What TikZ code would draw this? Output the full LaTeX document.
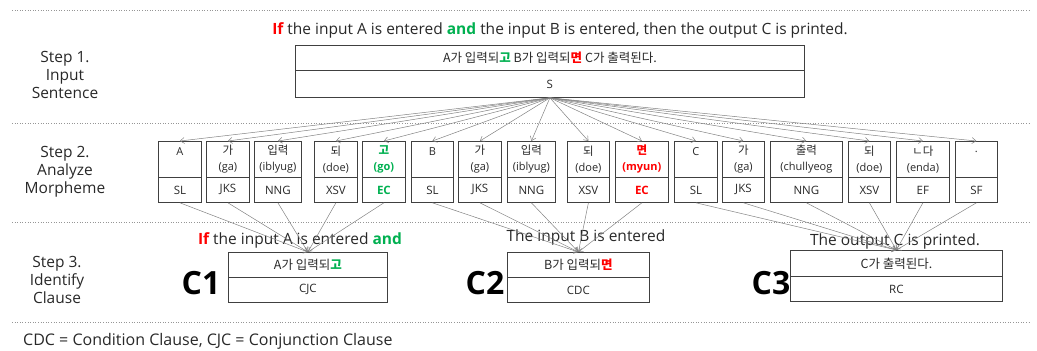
\documentclass[tikz,border=0pt]{standalone}
\usepackage{fontspec}
\setmainfont{Open Sans}
\newfontfamily\kr{Noto Sans CJK KR}
\usetikzlibrary{arrows.meta}
\definecolor{redword}{RGB}{255,0,0}
\definecolor{greenword}{RGB}{0,176,80}
\definecolor{boxline}{RGB}{64,64,64}
\definecolor{linkgray}{RGB}{130,130,130}
\definecolor{sepgray}{RGB}{150,150,150}
\definecolor{txt}{RGB}{40,40,40}

% one morpheme: index, left edge, width, upper text, lower tag
\newcommand\morphbox[5]{%
  \node[cell=36pt, minimum width=#3pt, font=\mfont] (mt#1) at (#2,141) {#4};
  \node[cell=25pt, minimum width=#3pt, font=\tagfont] (mb#1) at (#2,177) {#5};
}
\newcommand\mfont{\fontsize{11}{16}\selectfont}
\newcommand\tagfont{\fontsize{11.5}{14}\selectfont}
\newcommand\krbox{\kr\fontsize{12.5}{14}\selectfont}
\newcommand\hg[1]{{\kr\fontsize{11.5}{14}\selectfont #1}}

\begin{document}
\begin{tikzpicture}[x=1pt,y=-1pt,
  sep/.style={sepgray, dotted, line width=0.6pt},
  steplabel/.style={align=center, text=txt, font=\fontsize{15.5}{18}\selectfont},
  cell/.style={draw=boxline, line width=0.8pt, minimum height=#1, inner sep=0pt,
               anchor=north west, align=center, text=txt},
  link/.style={linkgray, line width=0.5pt, -{Straight Barb[length=4pt,width=6pt]}},
  title/.style={text=txt, font=\fontsize{15.5}{17}\selectfont, inner sep=0pt},
  big/.style={font=\fontsize{32}{32}\selectfont\bfseries, inner sep=0pt},
]
\useasboundingbox (0,0) rectangle (1037,351);

% section separators
\foreach \yy in {10,123,222,322}
  \draw[sep] (12,\yy) -- (1030,\yy);

% step labels
\node[steplabel] (step1) at (65,75) {Step 1.\\Input\\Sentence};
\node[steplabel] (step2) at (65,172) {Step 2.\\Analyze\\Morpheme};
\node[steplabel] (step3) at (57,280) {Step 3.\\Identify\\Clause};

% step 1: the sentence
\node[title] (eng) at (560,30) {\textcolor{redword}{\bfseries If} the input A is entered \textcolor{greenword}{\bfseries and} the input B is entered, then the output C is printed.};
\node[cell=25pt, minimum width=509pt, font=\krbox] (sent) at (295,45)
  {A가 입력되\textcolor{greenword}{\bfseries 고} B가 입력되\textcolor{redword}{\bfseries 면} C가 출력된다.};
\node[cell=27pt, minimum width=509pt, font=\tagfont] (S) at (295,70) {S};

% step 2: morphemes
\morphbox{1}{158}{43}{A\\\mbox{}}{SL}
\morphbox{2}{206}{43}{\hg{가}\\(ga)}{JKS}
\morphbox{3}{254}{47}{\hg{입력}\\(iblyug)}{NNG}
\morphbox{4}{314}{43}{\hg{되}\\(doe)}{XSV}
\morphbox{5}{362}{43}{\color{greenword}\bfseries\hg{고}\\\color{greenword}\bfseries(go)}{\color{greenword}\bfseries EC}
\morphbox{6}{411}{42}{B\\\mbox{}}{SL}
\morphbox{7}{458}{43}{\hg{가}\\(ga)}{JKS}
\morphbox{8}{507}{48}{\hg{입력}\\(iblyug)}{NNG}
\morphbox{9}{567}{42}{\hg{되}\\(doe)}{XSV}
\morphbox{10}{615}{53}{\color{redword}\bfseries\hg{면}\\\color{redword}\bfseries(myun)}{\color{redword}\bfseries EC}
\morphbox{11}{674}{43}{C\\\mbox{}}{SL}
\morphbox{12}{722}{42}{\hg{가}\\(ga)}{JKS}
\morphbox{13}{770}{72}{\hg{출력}\\(chullyeog}{NNG}
\morphbox{14}{848}{42}{\hg{되}\\(doe)}{XSV}
\morphbox{15}{896}{53}{\hg{ㄴ다}\\(enda)}{EF}
\morphbox{16}{955}{42}{.\\\mbox{}}{SF}

\foreach \i in {1,...,16}
  \draw[link] (S.south) -- (mt\i.north);

% step 3: clauses
\node[cell=25pt, minimum width=159pt, font=\krbox] (c1t) at (228,252)
  {A가 입력되\textcolor{greenword}{\bfseries 고}};
\node[cell=25pt, minimum width=159pt, font=\tagfont] (c1b) at (228,277) {CJC};
\node[cell=25pt, minimum width=142pt, font=\krbox] (c2t) at (507,252)
  {B가 입력되\textcolor{redword}{\bfseries 면}};
\node[cell=25pt, minimum width=142pt, font=\tagfont] (c2b) at (507,277) {CDC};
\node[cell=26pt, minimum width=212pt, font=\krbox] (c3t) at (790,250)
  {C가 출력된다.};
\node[cell=25pt, minimum width=212pt, font=\tagfont] (c3b) at (790,276) {RC};

\node[big] (C1) at (201,283.5) {C1};
\node[big] (C2) at (485,283.5) {C2};
\node[big] (C3) at (771,283) {C3};

\node[title] (t1) at (300,240) {\textcolor{redword}{\bfseries If} the input A is entered \textcolor{greenword}{\bfseries and}};
\node[title] (t2) at (586,237) {The input B is entered};
\node[title] (t3) at (895,241) {The output C is printed.};

\foreach \i in {1,...,5}
  \draw[link] (mb\i.south) -- (c1t.north);
\foreach \i in {6,...,10}
  \draw[link] (mb\i.south) -- (c2t.north);
\foreach \i in {11,...,16}
  \draw[link] (mb\i.south) -- (c3t.north);

% legend
\node[title, anchor=west, font=\fontsize{16}{18}\selectfont] (legend) at (23,341) {CDC = Condition Clause, CJC = Conjunction Clause};
\end{tikzpicture}
\end{document}
